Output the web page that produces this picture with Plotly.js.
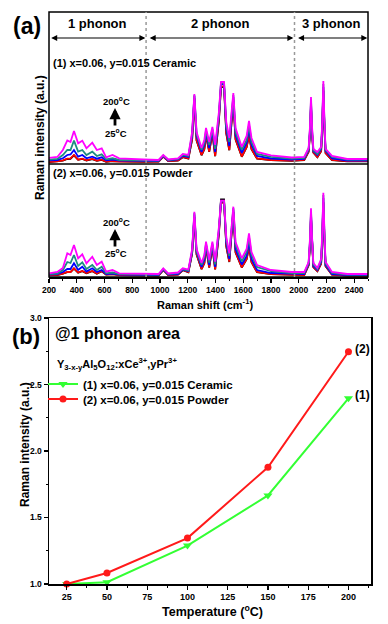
<!DOCTYPE html>
<html>
<head>
<meta charset="utf-8">
<script src="https://cdn.plot.ly/plotly-3.0.1.min.js"></script>
<style>html,body{margin:0;padding:0;background:#fff;}#chart{width:388px;height:624px;}</style>
</head>
<body>
<div id="chart"></div>
<script>
// ---------- Panel (a): Raman spectra ----------
var ramanShift = [200,260,300,332,355,380,410,440,470,512,545,580,612,658,706,780,880,990,1024,1060,1130,1165,1205,1232,1248,1264,1300,1320,1332,1355,1378,1398,1425,1440,1462,1478,1500,1515,1529,1545,1590,1625,1642,1660,1700,1800,1950,2040,2072,2081,2089,2097,2106,2135,2162,2170,2178,2186,2194,2240,2350,2500];

// (1) Ceramic
var ceramic25  = [2,2.4,3.4,5,5.2,8.6,4.1,5,3.5,4.8, 3.1,4.1,2.2,2.8,2.4, 2.4,2.2,2.4,7.3,2.9, 3.4,6.8,5.3,24.5,65.5, 23.5,8.7,14.7,28.7,12.2, 30.7,7.7,43.5,76.5,77.5, 30.5,13.7,41.5,63.5,24.5, 7.2,16.7,28.5,14.7,5.3, 3.9,3.2,3.9,12.3,29.5, 57,29.5,11.3,6.8,12.8, 35.5,73,35.5,10.8,3.9, 2.7,2.7];
var ceramic50  = [2.2,2.6,3.7,5.3,5.5,9,4.3,5.3,3.7,5, 3.3,4.3,2.3,3,2.5, 2.5,2.3,2.5,7.5,3, 3.5,7,5.5,25,66, 24,9,15,29,12.5, 31,8,44,77,78, 31,14,42,64,25, 7.5,17,29,15,5.5, 4,3.3,4,12.5,30, 58,30,11.5,7,13, 36,74,36,11,4, 2.8,2.8];
var ceramic100 = [3.7,4,5.7,9,9.5,14,7.3,9,5.7,7.3, 5.3,6.7,3.7,4.3,3.5, 3.3,3,3,8,3.5, 4.5,8,7,28,68, 28,12,19,31.5,16, 33,12,47,80,80, 35,18,45,67,29, 11,21,35,19,8, 5.5,4.5,5,14,32, 61,32,13,9,15, 38,77,38,13,5.5, 3.5,3.5];
var ceramic150 = [4.3,5,9,14,14,23.3,12.3,14,9,12.3, 8,9.7,4.7,5.7,4, 4,3.5,3.5,8.5,4, 5,9,8,30,69, 30,14,21,33.5,19, 35,15,49,81,81, 38,22,47,69,32, 14,24,39,22,10, 7,5.5,6,15,34, 64,34,14,10,16, 40,80,40,14,7, 4.5,4.5];
var ceramic200 = [6,7,14,23.5,22,33,20.7,23.3,15.7,21.3, 14,15.7,6.7,9,5.7, 5.5,4.5,4,9,4.5, 5.5,10,9,32,70, 32,16,24,36,22, 37,19,52,82,82, 42,26,50,71,36, 17,28,43,26,12, 8.5,6.5,7,16,36, 67,36,15,12,17, 42,83,42,15,8, 5,5];

// (2) Powder
var powder25  = [1.8,2,3.3,4.8,4.8,8.4,4.3,5.8,3.8,5.8, 3.3,5.8,2.4,2.9,1.9, 1.9,1.4,1.4,6.8,1.9, 2.4,6.8,4.8,23.5,60, 22.5,7.8,13.7,29.7,9.5, 29.7,7.5,44,77.7,77.7, 30.5,15,42.5,65,24.5, 9.5,17.7,30,14.7,4.8, 2.9,1.9,1.9,11.8,30.5, 59.5,30.5,9.8,5.8,13.3, 36.5,74.5,36.5,10.8,2.4, 1.4,1.4];
var powder50  = [2,2.2,3.5,5,5,8.7,4.5,6,4,6, 3.5,6,2.5,3,2, 2,1.5,1.5,7,2, 2.5,7,5,24,60.3, 23,8,14,30,9.7, 30,7.7,43,74,74.5, 31,15.3,43,65.3,25, 9.7,18,30.3,15,5, 3,2,2,12,31, 60,31,10,6,13.5, 37,75,37,11,2.5, 1.5,1.5];
var powder100 = [2.5,3,5,8,8,13.7,7,10.3,5.5,8.7, 5,7,3,3.5,2.5, 2.5,2,2,7.5,2.5, 3,7.5,6,25,62.5, 25,10,17,32,12, 32,10,46,75.5,75.5, 34,18,45,67.5,28, 12.5,21,35,18,7, 4,3,3,13,33, 63,33,11,7,15, 39,79,39,12,3, 2,2];
var powder150 = [3,3.5,7,15,14,22,11,14.7,8,12, 7,10.3,3.7,4.5,3, 3,2.5,2.5,8,3, 4,8,6.5,26,64, 26,12,20,33.5,14.5, 33.5,12.5,48,76,76, 37,21,47,69,32, 15.5,25,40,22,10, 6,4,4,14,35, 66,35,12.5,8,16.5, 41,82,41,13.5,4, 2.5,2.5];
var powder200 = [3.7,5,9,23.7,22,32,18.7,22.7,13.7,20.3, 12,15.3,5.3,7,3.7, 3.5,3,3,8.7,3.5, 4.5,8.7,7.5,28,65.3, 28,14,22,35.3,17, 35.3,15.3,50,76.3,76.3, 40,23.7,49,70.3,35, 18.7,28,43.7,25,12, 7,5,5,15,37, 68.7,37,14,9,18, 44,84.3,44,15,5, 3,3];

var spectraTempLabels = ['25 °C','50 °C','100 °C','150 °C','200 °C'];
var spectraColors = ['#000000','#ff0000','#0000ff','#1e8c80','#ff00ff'];
var shiftTicks = [200,400,600,800,1000,1200,1400,1600,1800,2000,2200,2400];
var regionBounds = [900, 1970];
var regionNames = ['1 phonon','2 phonon','3 phonon'];

// ---------- Panel (b): 1 phonon area vs temperature ----------
var temperatures = [25, 50, 100, 150, 200];
var ceramicArea = [1.0, 1.013, 1.289, 1.666, 2.396];
var powderArea  = [1.0, 1.083, 1.345, 1.878, 2.746];
var tempTicks = [25, 50, 75, 100, 125, 150, 175, 200];
var areaTicks = [1.0, 1.5, 2.0, 2.5, 3.0];

var FONT = 'Liberation Sans, Arial, sans-serif';
var traces = [];
var ceramicSets = [ceramic25, ceramic50, ceramic100, ceramic150, ceramic200];
var powderSets = [powder25, powder50, powder100, powder150, powder200];
for (var i = 0; i < 5; i++) {
  traces.push({x: ramanShift, y: ceramicSets[i], xaxis: 'x', yaxis: 'y', type: 'scatter', mode: 'lines',
    name: spectraTempLabels[i], showlegend: false, line: {color: spectraColors[i], width: 1.8}, hoverinfo: 'skip'});
}
for (var j = 0; j < 5; j++) {
  traces.push({x: ramanShift, y: powderSets[j], xaxis: 'x', yaxis: 'y2', type: 'scatter', mode: 'lines',
    name: spectraTempLabels[j], showlegend: false, line: {color: spectraColors[j], width: 1.8}, hoverinfo: 'skip'});
}
traces.push({x: temperatures, y: ceramicArea, xaxis: 'x2', yaxis: 'y3', type: 'scatter', mode: 'lines+markers',
  name: '(1) x=0.06, y=0.015 Ceramic', cliponaxis: false, legend: 'legend',
  line: {color: '#33ff33', width: 2}, marker: {symbol: 'triangle-down', size: 8, color: '#33ff33'}});
traces.push({x: temperatures, y: powderArea, xaxis: 'x2', yaxis: 'y3', type: 'scatter', mode: 'lines+markers',
  name: '(2) x=0.06, y=0.015 Powder', cliponaxis: false, legend: 'legend2',
  line: {color: '#ff1a1a', width: 2}, marker: {symbol: 'circle', size: 7, color: '#ff1a1a'}});

var XR = 0.9907;
var yA0 = 0.5367, ySep = 0.7343, yB1 = 0.465;
function px(x){ return (x-49)/322; }
function py(y){ return (584-y)/572; }
var bold = function(s){ return {family: FONT, size: s, color: '#000', weight: 'bold'}; };
function txt(xp, yp, text, size, extra) {
  var a = {xref:'paper', yref:'paper', x: px(xp), y: py(yp), text: text, showarrow:false,
    xanchor:'center', yanchor:'middle', font: bold(size)};
  if (extra) for (var key in extra) a[key] = extra[key];
  return a;
}

var ann = [];
ann.push(txt(27, 26, '(a)', 23));
ann.push(txt(26, 336, '(b)', 22));
var regionCenters = [(200+regionBounds[0])/2, (regionBounds[0]+regionBounds[1])/2, (regionBounds[1]+2500)/2];
var arrowSpans = [[205, 895], [915, 1962], [1985, 2495]];
for (var k = 0; k < 3; k++) {
  ann.push({xref:'x', yref:'paper', x: regionCenters[k], y: py(24), xanchor:'center', yanchor:'middle',
    text: regionNames[k], showarrow:false, font: bold(13)});
  ann.push({xref:'x', yref:'y', x: arrowSpans[k][1], y: 126, axref:'x', ayref:'y', ax: arrowSpans[k][0], ay: 126,
    text:'', showarrow:true, arrowhead:2, startarrowhead:2, arrowside:'end+start', arrowsize:1, arrowwidth:1.2, arrowcolor:'#000'});
}
ann.push(txt(51, 63, '(1) x=0.06, y=0.015 Ceramic', 11, {xanchor:'left'}));
ann.push(txt(51, 173, '(2) x=0.06, y=0.015 Powder', 11, {xanchor:'left'}));
// temperature arrows
var tempLab = [[101,133,108],[221.5,253,229]];
for (var m = 0; m < 2; m++) {
  ann.push(txt(116, tempLab[m][0], '200<sup>o</sup>C', 9.5));
  ann.push(txt(116, tempLab[m][1], '25<sup>o</sup>C', 9.5));
  ann.push({xref:'paper', yref:'paper', x: px(115), y: py(tempLab[m][2]), ax:0, ay:19, text:'', showarrow:true,
    arrowhead:2, arrowsize:0.8, arrowwidth:2.8, arrowcolor:'#000'});
}
ann.push(txt(40, 138, 'Raman intensity (a.u.)', 12, {textangle:-90}));
ann.push(txt(205, 304, 'Raman shift (cm<sup>-1</sup>)', 11));
// panel b texts
ann.push(txt(53, 333, '@1 phonon area', 16, {xanchor:'left'}));
ann.push(txt(55, 364, 'Y<sub>3-x-y</sub>Al<sub>5</sub>O<sub>12</sub>:xCe<sup>3+</sup>,yPr<sup>3+</sup>', 11, {xanchor:'left'}));
ann.push({xref:'x2', yref:'y3', x: temperatures[4], y: ceramicArea[4], xshift: 5, yshift: 3, xanchor:'left', yanchor:'middle',
  text:'(1)', showarrow:false, font: bold(12)});
ann.push({xref:'x2', yref:'y3', x: temperatures[4], y: powderArea[4], xshift: 5, yshift: 3, xanchor:'left', yanchor:'middle',
  text:'(2)', showarrow:false, font: bold(12)});
ann.push(txt(25, 445, 'Raman intensity (a.u.)', 12, {textangle:-90}));
ann.push(txt(212, 611, 'Temperature (<sup>o</sup>C)', 12.5));

var shapes = [
  {type:'rect', xref:'paper', yref:'paper', x0:0, x1:XR, y0:yA0, y1:1, line:{color:'#000', width:1.5}},
  {type:'line', xref:'paper', yref:'paper', x0:0, x1:XR, y0:ySep, y1:ySep, line:{color:'#000', width:1.5}},
  {type:'line', xref:'x', yref:'paper', x0:regionBounds[0], x1:regionBounds[0], y0:yA0, y1:1, line:{color:'#999', width:1.5, dash:'dot'}},
  {type:'line', xref:'x', yref:'paper', x0:regionBounds[1], x1:regionBounds[1], y0:yA0, y1:1, line:{color:'#999', width:1.5, dash:'dot'}}
];

var legendBase = {xanchor:'left', yanchor:'middle', bgcolor:'rgba(0,0,0,0)', borderwidth:0,
  font: bold(11.5), tracegroupgap:0, itemwidth:30};
var layout = {
  width: 388, height: 624,
  margin: {l:49, r:17, t:12, b:40, pad:0},
  paper_bgcolor:'#fff', plot_bgcolor:'rgba(0,0,0,0)',
  font: {family: FONT, color:'#000'},
  showlegend: true,
  legend: Object.assign({}, legendBase, {x: px(43), y: py(384)}),
  legend2: Object.assign({}, legendBase, {x: px(43), y: py(399)}),
  xaxis: {domain:[0, XR], anchor:'y2', range:[200, 2500], tickmode:'array', tickvals: shiftTicks,
    ticks:'outside', ticklen:4, tickwidth:1.2, tickcolor:'#000', showline:true, linecolor:'#000', linewidth:1.5,
    showgrid:false, zeroline:false, tickfont: bold(8.5),
    minor:{ticks:'outside', ticklen:2, tickwidth:1, dtick:100, tick0:200, showgrid:false}},
  yaxis: {domain:[ySep, 1], anchor:'x', range:[0, 152], visible:false},
  yaxis2: {domain:[yA0, ySep], anchor:'x', range:[0, 113], visible:false},
  xaxis2: {domain:[0, 1], anchor:'y3', range:[14, 214], tickmode:'array', tickvals: tempTicks,
    ticks:'outside', ticklen:4, tickwidth:1.2, tickcolor:'#000', showline:true, mirror:true, linecolor:'#000', linewidth:1.5,
    showgrid:false, zeroline:false, tickfont: bold(9),
    minor:{ticks:'outside', ticklen:2, tickwidth:1, dtick:12.5, tick0:0, showgrid:false}},
  yaxis3: {domain:[0, yB1], anchor:'x2', range:[1, 3], tickmode:'array', tickvals: areaTicks,
    ticktext: areaTicks.map(function(v){return v.toFixed(1);}),
    ticks:'outside', ticklen:4, tickwidth:1.2, tickcolor:'#000', showline:true, mirror:true, linecolor:'#000', linewidth:1.5,
    showgrid:false, zeroline:false, tickfont: bold(8.5),
    minor:{ticks:'outside', ticklen:2, tickwidth:1, dtick:0.25, tick0:1, showgrid:false}},
  annotations: ann,
  shapes: shapes
};

Plotly.newPlot('chart', traces, layout, {displayModeBar:false, staticPlot:true});
</script>
</body>
</html>
